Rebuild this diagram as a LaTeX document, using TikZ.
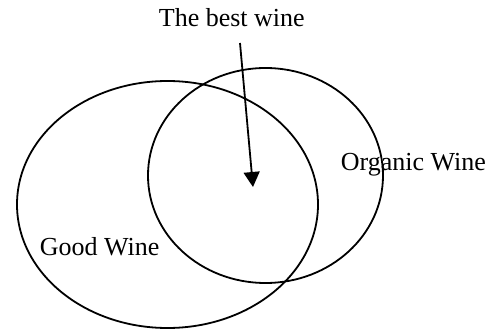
\documentclass[tikz,border=0pt]{standalone}
\usepackage{fontspec}
\setmainfont{Liberation Serif}
\usetikzlibrary{arrows.meta, shapes.geometric}

\begin{document}
\begin{tikzpicture}[x=1pt, y=-1pt, line width=1.8pt,
    every node/.style={font=\fontsize{26}{30}\selectfont, inner sep=0pt},
    set/.style={draw, ellipse, inner sep=0pt}]
    \useasboundingbox (0,0) rectangle (499,329);
    \node[set, minimum width=301pt, minimum height=247pt] (good) at (167.5,204.5) {};
    \node[set, minimum width=235pt, minimum height=215pt] (organic) at (265.5,175.5) {};
    \node[anchor=base west] (best) at (158,27) {The best wine};
    \node[anchor=base west] (orglabel) at (340,171) {Organic Wine};
    \node[anchor=base west] (goodlabel) at (39,255) {Good Wine};
    \coordinate (from) at (240,43);
    \coordinate (both) at (253,187);
    \draw[-{Triangle[length=15pt,width=16pt]}] (from) -- (both);
  \end{tikzpicture}
\end{document}
